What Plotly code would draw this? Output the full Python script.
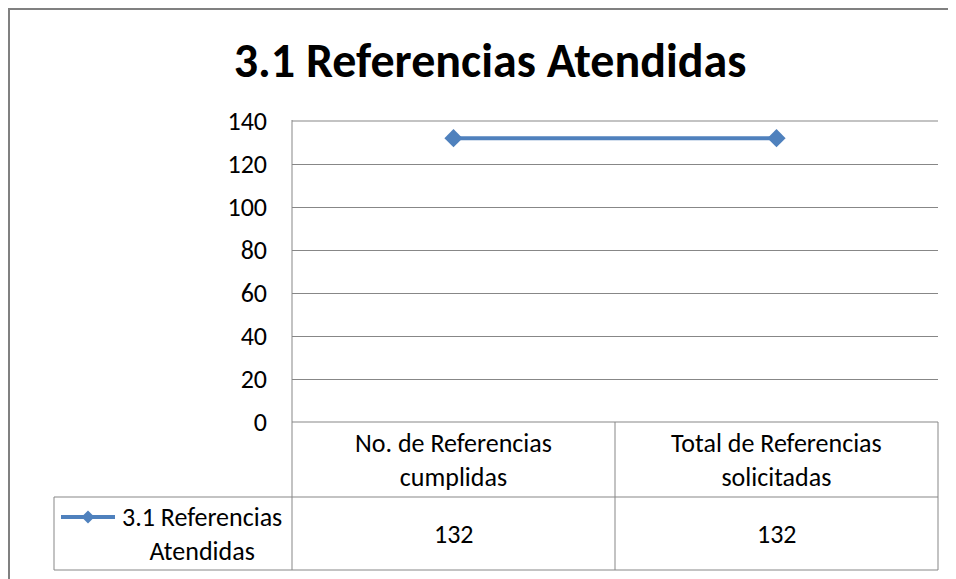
import plotly.graph_objects as go

categories = ["No. de Referencias<br>cumplidas", "Total de Referencias<br>solicitadas"]
values = [132, 132]
series_name = "3.1 Referencias<br>Atendidas"
title = "3.1 Referencias Atendidas"
y_ticks = [0, 20, 40, 60, 80, 100, 120, 140]

# page has an 8px body margin, so the figure is drawn 8px in from the corner
OFF = 8
W, H = 956 - OFF, 579 - OFF
# plot area edges in screenshot pixels
PL, PR, PT, PB = 292, 938, 121, 422
pw, ph = PR - PL, PB - PT
blue = "#4F81BD"
grey = "#878787"
font = "Calibri, Carlito, 'Open Sans', sans-serif"


def fx(px):
    return (px - PL) / pw


def fy(py):
    return (PB - py) / ph


def hline(y, x0, x1, color=grey, width=1):
    return dict(type="line", xref="paper", yref="paper", x0=fx(x0), x1=fx(x1),
                y0=fy(y), y1=fy(y), line=dict(color=color, width=width))


def vline(x, y0, y1, color=grey, width=1):
    return dict(type="line", xref="paper", yref="paper", x0=fx(x), x1=fx(x),
                y0=fy(y0), y1=fy(y1), line=dict(color=color, width=width))


fig = go.Figure(
    go.Scatter(
        x=categories,
        y=values,
        mode="lines+markers",
        line=dict(color=blue, width=4),
        marker=dict(symbol="diamond", size=14, color=blue),
        name=series_name,
        showlegend=False,
    )
)

# data table grid
row_top, row_mid, row_bot = 422, 497, 570
col_left, col_mid, col_right = 54, 615, 938
kx, ky, kr = 88, 517, 6.5
shapes = [
    hline(PT, PL, PR),
    hline(row_top, PL, col_right),
    hline(row_mid, col_left, col_right),
    hline(row_bot, col_left, col_right),
    vline(PL, PT - 1, row_bot),
    vline(col_mid, row_top, row_bot),
    vline(col_right, row_top, row_bot),
    vline(col_left, row_mid, row_bot),
    # chart border
    vline(9, 9, 590, color="#808080", width=2),
    hline(9, 8, 970, color="#808080", width=2),
    # legend key in the table
    hline(ky, 61, 115, color=blue, width=4),
    dict(type="path", xref="paper", yref="paper",
         path="M {} {} L {} {} L {} {} L {} {} Z".format(
             fx(kx - kr), fy(ky), fx(kx), fy(ky - kr), fx(kx + kr), fy(ky), fx(kx), fy(ky + kr)),
         fillcolor=blue, line=dict(color=blue, width=0)),
]

txt = dict(size=26, color="black", family=font)
cell = dict(showarrow=False, align="center", xanchor="center", yanchor="middle", font=txt)
annotations = []
for cat, val in zip(categories, values):
    annotations.append(dict(x=cat, xref="x", y=fy((row_top + row_mid) / 2), yref="paper",
                            text=cat, **cell))
    annotations.append(dict(x=cat, xref="x", y=fy((row_mid + row_bot) / 2), yref="paper",
                            text=str(val), **cell))
annotations.append(dict(x=fx(202), xref="paper", y=fy((row_mid + row_bot) / 2), yref="paper",
                        text=series_name, **cell))

fig.update_layout(
    width=W,
    height=H,
    margin=dict(l=PL - OFF, r=W - (PR - OFF), t=PT - OFF, b=H - (PB - OFF)),
    paper_bgcolor="white",
    plot_bgcolor="white",
    title=dict(text="<b>" + title + "</b>", x=fx(490), xanchor="center", xref="paper",
               y=1 - (60 - OFF) / H, yanchor="middle",
               font=dict(size=48, color="black", family=font)),
    xaxis=dict(range=[-0.5, 1.5], showgrid=False, showticklabels=False, zeroline=False,
               showline=False, fixedrange=True),
    yaxis=dict(range=[0, 140], tickvals=y_ticks, showgrid=True, gridcolor=grey, gridwidth=1,
               zeroline=False, showline=False, ticks="", ticklabelstandoff=24,
               tickfont=txt),
    shapes=shapes,
    annotations=annotations,
)

fig.write_html("out.html")
